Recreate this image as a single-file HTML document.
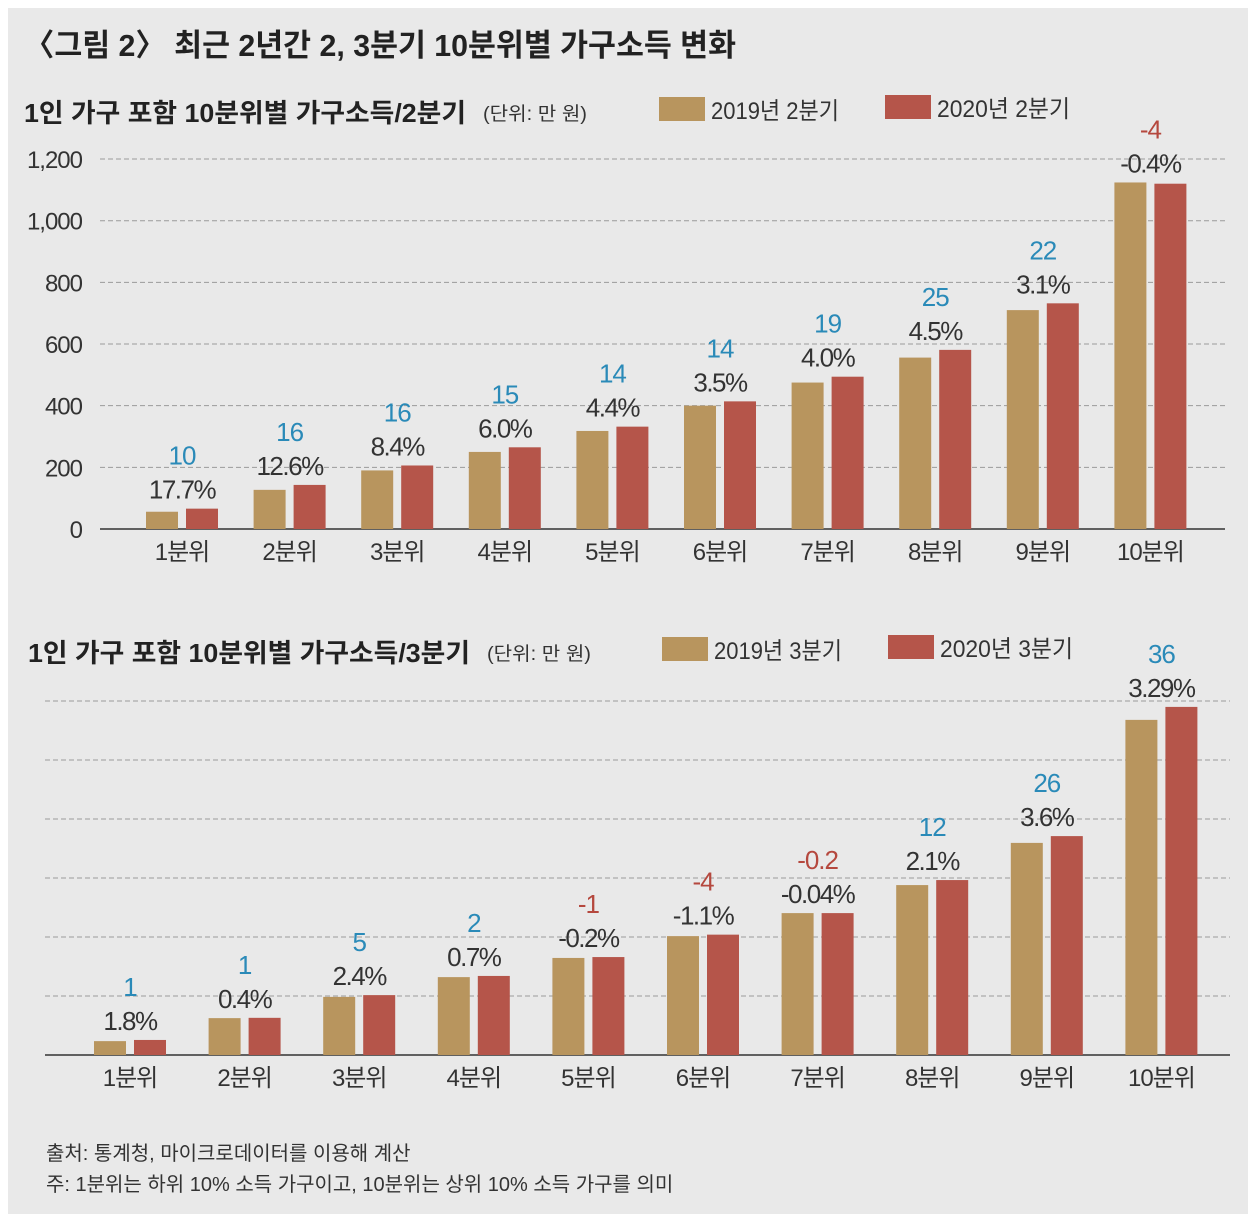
<!DOCTYPE html>
<html><head><meta charset="utf-8"><style>
body{margin:0;background:#fff}
svg{display:block;font-family:"Liberation Sans","Noto Sans CJK KR",sans-serif}
</style></head><body>
<svg id="c" width="1258" height="1222" viewBox="0 0 1258 1222">
<rect x="8" y="8" width="1240" height="1206" fill="#e9e9e9"/>
<text x="24" y="56" font-size="31" font-weight="bold" fill="#222" textLength="712" lengthAdjust="spacingAndGlyphs">〈그림 2〉 최근 2년간 2, 3분기 10분위별 가구소득 변화</text>
<text x="24" y="122" font-size="26" font-weight="bold" fill="#222" textLength="442" lengthAdjust="spacingAndGlyphs">1인 가구 포함 10분위별 가구소득/2분기</text>
<text x="483" y="120" font-size="19" fill="#333" textLength="104" lengthAdjust="spacingAndGlyphs">(단위: 만 원)</text>
<rect x="659" y="97" width="46" height="24" fill="#b8955e"/>
<text x="711" y="119" font-size="24" fill="#333" textLength="128" lengthAdjust="spacingAndGlyphs">2019년 2분기</text>
<rect x="885" y="95" width="46" height="24" fill="#b5554a"/>
<text x="937" y="117" font-size="24" fill="#333" textLength="133" lengthAdjust="spacingAndGlyphs">2020년 2분기</text>
<text x="28" y="662" font-size="26" font-weight="bold" fill="#222" textLength="442" lengthAdjust="spacingAndGlyphs">1인 가구 포함 10분위별 가구소득/3분기</text>
<text x="487" y="660" font-size="19" fill="#333" textLength="104" lengthAdjust="spacingAndGlyphs">(단위: 만 원)</text>
<rect x="662" y="637" width="46" height="24" fill="#b8955e"/>
<text x="714" y="659" font-size="24" fill="#333" textLength="128" lengthAdjust="spacingAndGlyphs">2019년 3분기</text>
<rect x="888" y="635" width="46" height="24" fill="#b5554a"/>
<text x="940" y="657" font-size="24" fill="#333" textLength="133" lengthAdjust="spacingAndGlyphs">2020년 3분기</text>
<text x="46" y="1160" font-size="20" fill="#333">출처: 통계청, 마이크로데이터를 이용해 계산</text>
<text x="46" y="1191" font-size="20" fill="#333">주: 1분위는 하위 10% 소득 가구이고, 10분위는 상위 10% 소득 가구를 의미</text>
<g id="g1"></g><g id="g2"></g>
</svg>
<script>
const categories=["1분위","2분위","3분위","4분위","5분위","6분위","7분위","8분위","9분위","10분위"];
const q2_2019=[56,127,190,250,318,400,475,556,710,1124];
const q2_2020=[66,143,206,265,332,414,494,581,732,1120];
const q2Diff=["10","16","16","15","14","14","19","25","22","-4"];
const q2Pct=["17.7%","12.6%","8.4%","6.0%","4.4%","3.5%","4.0%","4.5%","3.1%","-0.4%"];
const q3_2019=[47,125,197,264,329,403,481,576,719,1136];
const q3_2020=[51,126,203,268,332,408,481,593,742,1180];
const q3Diff=["1","1","5","2","-1","-4","-0.2","12","26","36"];
const q3Pct=["1.8%","0.4%","2.4%","0.7%","-0.2%","-1.1%","-0.04%","2.1%","3.6%","3.29%"];
const yTicks=[0,200,400,600,800,1000,1200];
const tickLabels=["0","200","400","600","800","1,000","1,200"];
const NS="http://www.w3.org/2000/svg";
function mk(p,t,a){const e=document.createElementNS(NS,t);for(const k in a)e.setAttribute(k,a[k]);p.appendChild(e);return e;}
function draw(g,cfg){
  const y=v=>cfg.base-v*cfg.scale;
  const x=i=>cfg.x0+i*cfg.step;
  yTicks.forEach((t,i)=>{
    if(t>0){const l=mk(g,"line",{x1:cfg.gx1,x2:cfg.gx2,y1:y(t),y2:y(t),stroke:"#9a9a9a","stroke-dasharray":"5,3","stroke-width":1});
    
    }
    if(cfg.ticks){const tx=mk(g,"text",{x:82,y:y(t)+9,"font-size":24,"text-anchor":"end",fill:"#333","letter-spacing":"-1"});tx.textContent=tickLabels[i];
    
    }
  });
  const ax=mk(g,"line",{x1:cfg.ax1,x2:cfg.gx2,y1:cfg.base,y2:cfg.base,stroke:"#333","stroke-width":1.5});
  
  
  categories.forEach((c,i)=>{
    const cx=x(i);
    const b1=mk(g,"rect",{x:cx-36,y:y(cfg.a[i]),width:32,height:cfg.a[i]*cfg.scale,fill:"#b8955e"});
    
    
    const b2=mk(g,"rect",{x:cx+4,y:y(cfg.b[i]),width:32,height:cfg.b[i]*cfg.scale,fill:"#b5554a"});
    
    
    const top=y(Math.max(cfg.a[i],cfg.b[i]));
    const p=mk(g,"text",{x:cx,y:top-10,"font-size":26,"text-anchor":"middle",fill:"#333","letter-spacing":"-1.5"});p.textContent=cfg.pct[i];
    
    
    const neg=cfg.diff[i].startsWith("-");
    const d=mk(g,"text",{x:cx,y:top-44,"font-size":26,"text-anchor":"middle",fill:neg?"#b5483e":"#2a8ab8","letter-spacing":"-1"});d.textContent=cfg.diff[i];
    
    
    const l=mk(g,"text",{x:cx,y:cfg.base+31,"font-size":24,"text-anchor":"middle",fill:"#333","letter-spacing":"-1"});l.textContent=c;
    
    
  });
}
draw(document.getElementById("g1"),{base:529,scale:0.3083,x0:182,step:107.6,gx1:100,gx2:1225,ax1:100,ticks:true,a:q2_2019,b:q2_2020,diff:q2Diff,pct:q2Pct});
draw(document.getElementById("g2"),{base:1055,scale:0.295,x0:130,step:114.6,gx1:45,gx2:1230,ax1:45,ticks:false,a:q3_2019,b:q3_2020,diff:q3Diff,pct:q3Pct});
</script>
</body></html>
